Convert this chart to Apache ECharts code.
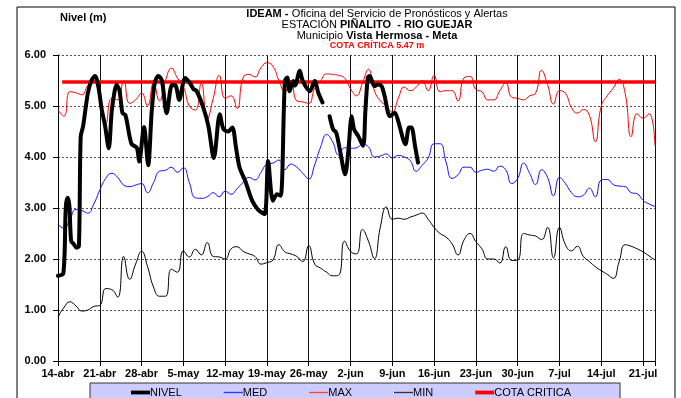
<!DOCTYPE html>
<html>
<head>
<meta charset="utf-8">
<script src="https://cdn.jsdelivr.net/npm/echarts@6/dist/echarts.min.js"></script>
<style>html,body{margin:0;padding:0;background:#fff}#c{width:681px;height:398px}</style>
</head>
<body>
<div id="c"></div>
<script>
// Tick labels (one per week, starting 14-abr = day 0)
const tickLabels = ['14-abr','21-abr','28-abr','5-may','12-may','19-may','26-may','2-jun','9-jun','16-jun','23-jun','30-jun','7-jul','14-jul','21-jul'];
const legendNames = ['NIVEL','MED','MAX','MIN','COTA CRITICA'];
const cotaCritica = 5.47;
const cotaDays = [0.7, 100];

// Daily historical series, day 0 (14-abr) .. day 100 (23-jul)
const medValues = [2.68,2.6,2.78,2.97,2.95,2.9,3.08,3.35,3.58,3.68,3.6,3.45,3.42,3.45,3.48,3.3,3.5,3.72,3.74,3.8,
  3.7,3.79,3.5,3.2,3.19,3.22,3.3,3.22,3.33,3.27,3.38,3.5,3.6,3.55,3.7,3.86,3.88,3.94,3.75,3.86,
  3.8,3.68,3.57,3.85,4.2,4.44,4.3,4.04,4.18,4.17,4.18,4.25,4.2,4.0,4.02,4.06,3.98,4.03,4.0,3.93,
  3.72,3.84,3.98,4.26,4.26,3.9,3.58,3.65,3.8,3.8,3.7,3.74,3.76,3.72,3.82,3.75,3.48,3.58,3.88,3.68,
  3.46,3.75,3.6,3.24,3.6,3.48,3.3,3.22,3.25,3.39,3.22,3.55,3.56,3.46,3.43,3.42,3.3,3.28,3.15,3.08,3.03];
const maxValues = [4.92,4.8,5.28,5.26,5.22,5.4,5.5,5.15,4.65,5.15,5.12,5.5,5.05,5.12,5.25,5.0,5.45,5.1,5.5,5.74,
  5.55,5.38,5.0,4.92,5.45,4.75,5.15,5.6,5.15,5.2,4.95,5.55,5.62,5.57,5.75,5.85,5.78,5.5,5.28,5.5,
  5.1,5.08,5.05,5.35,5.5,5.63,5.62,5.6,5.55,5.34,5.2,5.45,5.72,5.3,5.1,5.0,4.88,5.15,5.37,5.3,
  5.37,5.5,5.3,5.6,5.28,5.3,5.3,5.1,5.55,5.58,5.32,5.28,5.12,5.12,5.3,5.45,5.17,5.15,5.12,5.2,
  5.25,5.7,5.42,5.04,5.3,5.25,4.97,4.86,4.93,4.82,4.3,5.0,5.2,5.35,5.52,5.25,4.4,4.85,4.76,4.85,4.22];
const minValues = [0.86,1.05,1.16,1.08,0.98,1.0,1.07,1.09,1.42,1.4,1.25,2.05,1.6,1.9,2.15,1.85,1.45,1.27,1.27,1.8,
  1.74,2.16,2.04,2.19,2.08,2.32,2.05,2.04,2.0,2.2,2.24,2.15,2.1,2.05,1.9,1.93,1.98,2.28,2.14,2.1,
  2.05,1.95,2.26,1.9,1.82,1.74,1.67,1.68,2.35,2.15,2.1,2.58,2.35,2.01,2.63,3.02,2.78,2.8,2.78,2.82,
  2.86,2.9,2.78,2.62,2.5,2.43,2.3,2.08,2.37,2.5,2.34,2.2,2.0,2.0,1.92,2.24,1.97,1.98,2.5,2.47,
  2.45,2.38,2.62,2.02,2.62,2.28,2.16,2.25,2.05,1.95,1.85,1.77,1.7,1.62,1.95,2.28,2.25,2.2,2.14,2.06,1.98];

// Observed level: [day, value] readings (null = missing)
const nivelDays = [0,0.9,1.3,1.6,1.9,2.2,2.6,3.1,3.5,3.8,4.2,5,5.6,6.2,6.8,7.3,7.9,8.5,9.0,9.5,9.8,10.3,10.8,11.3,12.3,13.2,13.6,14.4,15.1,15.7,16.2,16.8,17.4,18.2,19.1,19.7,20.3,21.3,22.1,22.7,23.2,24.4,25.2,26.1,27.1,27.7,28.5,29.2,29.8,30.4,31.4,32.5,33.5,34.6,35.2,36.0,36.7,37.3,38.0,38.4,38.8,39.4,39.7,40.5,41,42.2,43,43.6,44.3,44.9,45.5,46.1,46.6,47.2,48.1,48.6,49.2,49.6,50.3,51.1,51.5,51.9,52.2,53,53.6,54.2,54.7,55.6,56.4,57,57.8,58.2,58.8,59.2,59.8,60.3];
const nivelValues = [1.67,1.72,3.0,3.2,3.05,2.35,2.3,2.22,2.25,4.4,4.6,5.25,5.5,5.59,5.35,4.95,4.6,4.17,4.9,5.3,5.41,5.3,4.86,4.82,4.26,4.18,3.91,4.59,3.84,4.9,5.45,5.59,5.5,4.86,5.41,5.4,5.12,5.55,5.45,5.33,5.3,4.95,4.6,3.98,4.84,4.55,4.5,4.58,4.2,3.8,3.52,3.15,2.97,2.88,3.92,3.14,3.27,3.24,5.49,5.56,5.29,5.49,5.4,5.69,5.49,5.29,5.49,5.26,5.07,null,4.8,4.54,4.48,4.15,3.66,4.08,4.8,4.54,4.41,4.22,4.93,5.56,5.59,5.39,5.42,5.39,5.2,4.8,4.87,4.7,4.35,4.25,4.58,4.58,4.22,3.89];

const FONT = 'Arial, "Liberation Sans", sans-serif';
const daily = arr => arr.map((v, i) => [i, v]);
const nivelData = nivelDays.map((d, i) => [d, nivelValues[i]]);
const cotaData = cotaDays.map(d => [d, cotaCritica]);
const THICK = 'path://M0,0H20V4H0Z';
const THIN = 'path://M0,0H20V1.4H0Z';
const legendIcons = [THICK, THIN, THIN, THIN, THICK];

const chart = echarts.init(document.getElementById('c'), null, {renderer: 'canvas'});
chart.setOption({
  animation: false,
  backgroundColor: '#fff',
  textStyle: {fontFamily: FONT},
  grid: {left: 58, right: 26, top: 55, bottom: 37, containLabel: false},
  graphic: [
    {type: 'rect', z: -10, shape: {x: 17, y: 7, width: 658, height: 400}, style: {fill: null, stroke: '#000', lineWidth: 1}},
    {type: 'text', x: 377, y: 14, style: {text: '{b|IDEAM -} {n|Oficina del Servicio de Pronósticos y Alertas}', align: 'center', verticalAlign: 'middle',
      rich: {b: {fontFamily: FONT, fontSize: 11, fontWeight: 'bold', fill: '#000'}, n: {fontFamily: FONT, fontSize: 11, fill: '#000'}}}},
    {type: 'text', x: 377, y: 25, style: {text: '{n|ESTACIÓN }{b|PIÑALITO  - RIO GUEJAR}', align: 'center', verticalAlign: 'middle',
      rich: {b: {fontFamily: FONT, fontSize: 11, fontWeight: 'bold', fill: '#000'}, n: {fontFamily: FONT, fontSize: 11, fill: '#000'}}}},
    {type: 'text', x: 377, y: 36, style: {text: '{n|Municipio }{b|Vista Hermosa - Meta}', align: 'center', verticalAlign: 'middle',
      rich: {b: {fontFamily: FONT, fontSize: 11, fontWeight: 'bold', fill: '#000'}, n: {fontFamily: FONT, fontSize: 11, fill: '#000'}}}},
    {type: 'text', x: 377, y: 46, style: {text: 'COTA CRÍTICA ' + cotaCritica.toFixed(2) + ' m', align: 'center', verticalAlign: 'middle',
      fontFamily: FONT, fontSize: 9, fontWeight: 'bold', fill: '#ff0000'}}
  ],
  legend: {
    left: 90, top: 383, orient: 'horizontal',
    itemWidth: 19, itemHeight: 10, itemGap: 42,
    padding: [4, 49, 12, 41],
    symbolKeepAspect: true,
    backgroundColor: '#ccccff', borderColor: '#333', borderWidth: 1,
    textStyle: {fontFamily: FONT, fontSize: 11, color: '#000', padding: [0, 0, 0, -5]},
    data: legendNames.map((n, i) => ({name: n, icon: legendIcons[i]}))
  },
  xAxis: {
    type: 'value', min: 0, max: 100, interval: 7,
    axisLine: {show: true, lineStyle: {color: '#000', width: 1}},
    axisTick: {show: true, length: 5, lineStyle: {color: '#000'}},
    axisLabel: {margin: 7, fontFamily: FONT, fontSize: 11, fontWeight: 'bold', color: '#000',
      formatter: v => { const i = v / 7; return (Number.isInteger(i) && tickLabels[i]) ? tickLabels[i] : ''; }},
    splitLine: {show: true, lineStyle: {color: '#111', width: 1}}
  },
  yAxis: {
    type: 'value', min: 0, max: 6, interval: 1,
    name: 'Nivel (m)', nameLocation: 'end', nameGap: 32,
    nameTextStyle: {fontFamily: FONT, fontSize: 11, fontWeight: 'bold', color: '#000', align: 'left', padding: [0, 0, 0, 2]},
    axisLine: {show: true, lineStyle: {color: '#000', width: 1}},
    axisTick: {show: true, length: 5, lineStyle: {color: '#000'}},
    axisLabel: {margin: 12, fontFamily: FONT, fontSize: 11, fontWeight: 'bold', color: '#000', formatter: v => v.toFixed(2)},
    splitLine: {show: true, lineStyle: {color: '#555', width: 1, type: [2, 2]}}
  },
  series: [
    {name: 'NIVEL', type: 'line', data: nivelData, symbol: 'none', showSymbol: false, smooth: 0.3, connectNulls: false, z: 6,
      lineStyle: {color: '#000', width: 4, cap: 'round', join: 'round'}, itemStyle: {color: '#000'}},
    {name: 'MED', type: 'line', data: daily(medValues), symbol: 'none', showSymbol: false, smooth: 0.5, z: 3,
      lineStyle: {color: '#1010ff', width: 1}, itemStyle: {color: '#3030ff'}},
    {name: 'MAX', type: 'line', data: daily(maxValues), symbol: 'none', showSymbol: false, smooth: 0.5, z: 3,
      lineStyle: {color: '#ff0000', width: 1}, itemStyle: {color: '#ff4040'}},
    {name: 'MIN', type: 'line', data: daily(minValues), symbol: 'none', showSymbol: false, smooth: 0.5, z: 3,
      lineStyle: {color: '#000', width: 1}, itemStyle: {color: '#333'}},
    {name: 'COTA CRITICA', type: 'line', data: cotaData, symbol: 'none', showSymbol: false, z: 5,
      lineStyle: {color: '#ff0000', width: 3.5}, itemStyle: {color: '#ff0000'}}
  ]
});
</script>
</body>
</html>
